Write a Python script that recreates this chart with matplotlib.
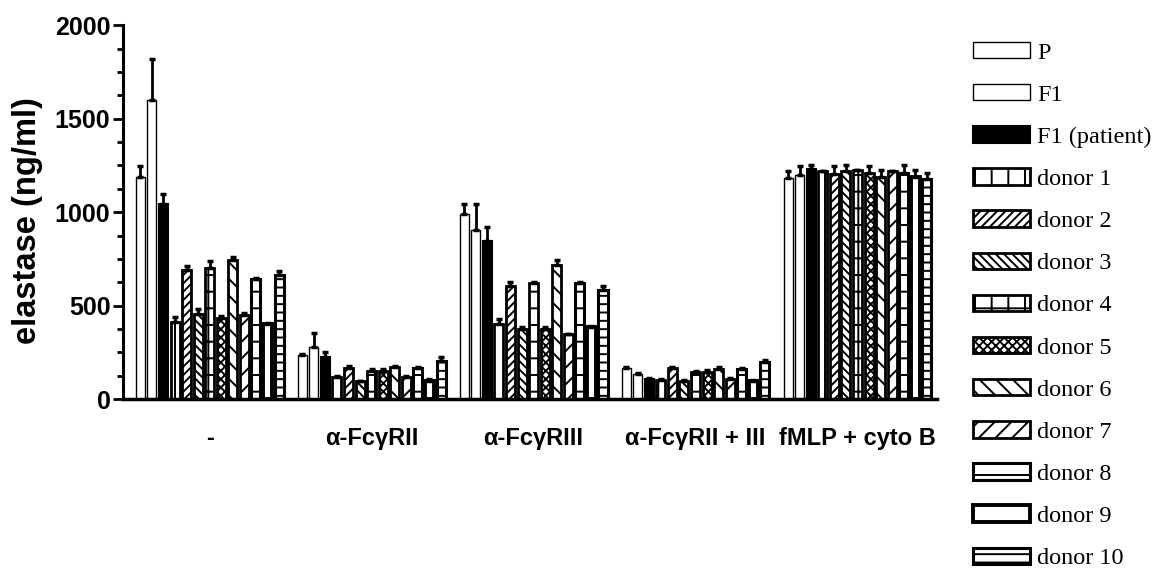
import numpy as np
import matplotlib
matplotlib.use("Agg")
import matplotlib.pyplot as plt
from matplotlib.patches import Patch
from matplotlib.ticker import MultipleLocator

groups = ['-', 'α-FcγRII', 'α-FcγRIII', 'α-FcγRII + III', 'fMLP + cyto B']
series = ['P', 'F1', 'F1 (patient)', 'donor 1', 'donor 2', 'donor 3', 'donor 4',
          'donor 5', 'donor 6', 'donor 7', 'donor 8', 'donor 9', 'donor 10']

# mean elastase per series, one list per stimulus
vals_none = [1190, 1600, 1045, 415, 690, 455, 700, 435, 745, 450, 645, 405, 665]
err_none = [55, 220, 55, 25, 20, 25, 40, 10, 15, 10, 5, 5, 20]
vals_rII = [235, 280, 225, 120, 165, 95, 150, 150, 170, 120, 165, 100, 205]
err_rII = [5, 75, 25, 5, 15, 5, 10, 10, 10, 5, 10, 10, 20]
vals_rIII = [990, 905, 845, 400, 605, 375, 620, 375, 720, 350, 620, 385, 585]
err_rIII = [55, 140, 75, 30, 20, 10, 5, 10, 25, 0, 5, 5, 20]
vals_rII_III = [165, 135, 110, 105, 165, 100, 145, 145, 160, 110, 160, 100, 200]
err_rII_III = [10, 5, 5, 5, 10, 5, 5, 10, 10, 5, 5, 5, 10]
vals_fmlp = [1185, 1200, 1230, 1220, 1205, 1220, 1225, 1210, 1190, 1220, 1210, 1190, 1180]
err_fmlp = [35, 45, 20, 0, 40, 30, 0, 35, 35, 0, 40, 35, 30]

means = np.array([vals_none, vals_rII, vals_rIII, vals_rII_III, vals_fmlp])
errs = np.array([err_none, err_rII, err_rIII, err_rII_III, err_fmlp])

# look of each series (fill, hatch, edge width)
styles = [
    ('white', '', 1.0),
    ('white', '', 1.0),
    ('black', '', 1.5),
    ('white', '|', 2.0),
    ('white', '////', 2.0),
    ('white', '\\\\\\\\', 2.0),
    ('white', '+', 2.0),
    ('white', 'xxxx', 2.0),
    ('white', '\\\\', 2.0),
    ('white', '//', 2.0),
    ('white', '-', 2.2),
    ('white', '', 2.8),
    ('white', '--', 2.2),
]

plt.rcParams['hatch.linewidth'] = 1.4
plt.rcParams['font.family'] = ['Liberation Sans', 'DejaVu Sans']

fig = plt.figure(figsize=(11.6, 5.72), dpi=100)
ax = fig.add_axes([0.106, 0.302, 0.702, 0.654])

slot = 14
width = 0.78
for i, name in enumerate(series):
    fc, hatch, lw = styles[i]
    x = np.arange(len(groups)) * slot + i
    ax.bar(x, means[:, i], width, color=fc, edgecolor='black', hatch=hatch,
           linewidth=lw, zorder=2)
    ax.errorbar(x, means[:, i], yerr=[np.zeros(len(groups)), errs[:, i]],
                fmt='none', ecolor='black', elinewidth=2, capsize=2.5,
                capthick=2.5, zorder=3)

ax.set_xlim(-1.5, 68.9)
ax.set_ylim(0, 2000)
ax.set_xticks(np.arange(len(groups)) * slot + 6)
ax.set_xticklabels(groups, fontsize=17, fontweight='bold')
ax.tick_params(axis='x', length=0, pad=20)
ax.yaxis.set_major_locator(MultipleLocator(500))
ax.yaxis.set_minor_locator(MultipleLocator(125))
ax.tick_params(axis='y', which='major', length=7, width=2, labelsize=18, pad=2)
ax.tick_params(axis='y', which='minor', length=4, width=2)
for lab in ax.get_yticklabels():
    lab.set_fontweight('bold')
ax.set_ylabel('elastase (ng/ml)', fontsize=23.5, fontweight='bold')
ax.yaxis.set_label_coords(-0.098, 0.479)

for s in ['top', 'right']:
    ax.spines[s].set_visible(False)
ax.spines['left'].set_linewidth(2.2)
ax.spines['bottom'].set_linewidth(2.5)

handles = [Patch(facecolor=st[0], edgecolor='black', hatch=st[1], linewidth=st[2])
           for st in styles]
fig.legend(handles, series, loc='upper left', bbox_to_anchor=(0.828, 0.948),
           frameon=False, prop={'family': 'Liberation Serif', 'size': 17.5},
           handlelength=2.35, handleheight=0.66, handletextpad=0.3,
           labelspacing=0.84, borderpad=0)

fig.savefig('out.png', dpi=100)
